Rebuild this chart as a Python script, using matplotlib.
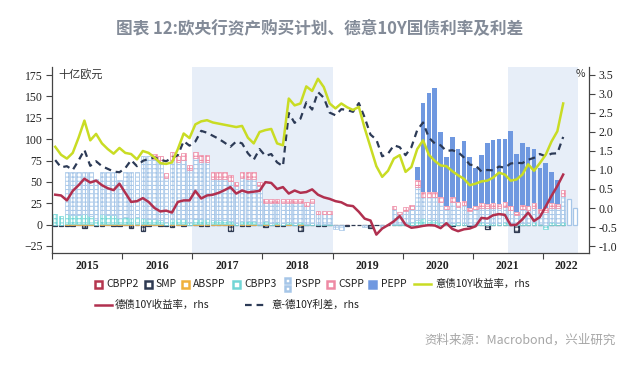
import numpy as np
import matplotlib
matplotlib.use('Agg')
import matplotlib.pyplot as plt
from matplotlib.patches import Rectangle
from matplotlib.lines import Line2D

plt.rcParams['font.family'] = ['Noto Sans CJK SC', 'DejaVu Sans']
plt.rcParams['hatch.linewidth'] = 0.7

# 月度净购买，十亿欧元，2015-01 ~ 2022-07
cbpp2 = [-1, 0, -1, 0, 0, -1, 0, 0, -1, 0, 0, -1,
         0, -1, 0, 0, -1, 0, 0, -1, 0, 0, -1, 0,
         0, 0, -1, 0, 0, 0, 0, 0, -1, 0, 0, 0,
         0, 0, 0, -1, 0, 0, 0, 0, 0, 0, -1, 0,
         0, 0, -1, 0, 0, 0, 0, 0, 0, 0, 0, 0,
         0, 0, 0, 0, 0, 0, 0, 0, 0, 0, 0, -1,
         0, 0, 0, 0, 0, 0, 0, 0, 0, 0, 0, 0,
         0, 0, 0, 0, 0, 0, 0]
smp = [-1, -2, -1, -2, -1, -3, -1, -2, -1, -1, -2, -1,
       -1, -3, -1, -7, -1, -1, -2, -1, -3, -1, -1, -1,
       -1, -2, -1, -1, -1, -1, -7, -1, -1, -2, -1, -1,
       -3, -1, -2, -1, -1, -1, -8, -1, -1, -2, -1, -1,
       -1, -1, -1, -1, -1, -1, -4, -1, -1, -1, -1, -1,
       -1, -1, -1, -1, -1, -1, -1, -1, -2, -1, -1, -1,
       -1, -1, -5, -1, -1, -1, -1, -9, -1, -1, -1, -1,
       -1, -1, -1, -1, 0, 0, 0]
abspp = [0, 0, 1, 1, 1, 1, 1, 0, 1, 1, 1, 1,
         1, 1, 1, 1, 1, 1, 1, 0, 1, 1, 1, 0,
         1, 1, 1, 1, 1, 1, 1, 0, 1, 1, 1, 0,
         1, 0, 1, 0, 1, 0, 1, 0, 0, 0, 0, 0,
         0, 0, 0, 0, 0, 0, 0, 0, 0, 0, 0, 0,
         0, 0, 0, 0, 0, 0, 0, 0, 0, 0, 0, 0,
         0, 0, 0, 0, 0, 0, 0, 0, 0, 0, 0, 0,
         0, 0, 0, 0, 0, 0, 0]
cbpp3 = [12, 10, 11, 10, 10, 11, 9, 5, 11, 10, 10, 7,
         8, 7, 8, 7, 6, 5, 4, 3, 5, 5, 5, 3,
         5, 5, 6, 4, 4, 4, 3, 2, 3, 3, 3, 1,
         3, 2, 2, 2, 2, 2, 2, 1, 2, 1, 1, 1,
         0, 0, 0, 0, 0, 0, 0, 0, 0, 0, 1, 1,
         2, 3, 5, 8, 5, 5, 3, 1, 2, 3, 2, 0,
         1, 3, 2, 2, 2, 3, 2, 1, 2, 2, 3, 1,
         -4, 3, 2, 3, 0, 0, 0]
pspp = [0, 0, 50, 51, 51, 50, 52, 48, 50, 51, 51, 44,
        53, 54, 53, 72, 73, 71, 68, 52, 70, 67, 70, 61,
        72, 67, 66, 48, 48, 48, 47, 43, 50, 49, 49, 44,
        21, 23, 22, 23, 22, 23, 22, 21, 23, 11, 11, 11,
        -4, -5, 0, 0, 0, -2, 0, 0, -2, 0, 17, 11,
        14, 15, 39, 24, 27, 27, 24, 17, 24, 18, 21, 16,
        17, 17, 17, 18, 17, 18, 15, 10, 16, 15, 17, 13,
        15, 17, 17, 31, 30, 20, 0]
cspp = [0, 0, 0, 0, 0, 0, 0, 0, 0, 0, 0, 0,
        0, 0, 0, 0, 0, 6, 7, 5, 9, 7, 8, 6,
        7, 8, 8, 8, 8, 8, 7, 5, 7, 8, 8, 5,
        5, 5, 5, 5, 5, 5, 5, 4, 5, 4, 4, 4,
        0, 0, 0, 0, 0, 0, 0, 0, 0, 0, 4, 3,
        5, 5, 8, 6, 6, 6, 5, 4, 6, 5, 5, 4,
        4, 5, 5, 5, 5, 5, 5, 4, 5, 5, 5, 4,
        5, 5, 5, 6, 0, 0, 0]
pepp = [0] * 60 + [
        0, 0, 15, 104, 116, 122, 76, 57, 70, 62, 70, 59,
        44, 56, 71, 74, 76, 74, 87, 68, 72, 69, 64, 48,
        52, 36, 28, 0, 0, 0, 0]

# 月度收益率，%，2015-01 ~ 2022-04
it10y = [1.61, 1.40, 1.30, 1.45, 1.85, 2.30, 1.78, 1.95, 1.70, 1.55, 1.43, 1.58,
         1.45, 1.42, 1.28, 1.50, 1.45, 1.33, 1.18, 1.16, 1.20, 1.55, 1.96, 1.84,
         2.20, 2.28, 2.31, 2.25, 2.22, 2.19, 2.16, 2.13, 2.16, 1.85, 1.70, 2.00,
         2.05, 2.08, 1.70, 1.65, 2.88, 2.70, 2.75, 3.20, 3.08, 3.40, 3.18, 2.75,
         2.62, 2.75, 2.65, 2.58, 2.66, 2.10, 1.60, 1.10, 0.82, 0.98, 1.30, 1.39,
         0.95, 1.08, 1.55, 1.78, 1.40, 1.24, 1.12, 1.10, 0.97, 0.86, 0.77, 0.60,
         0.64, 0.70, 0.72, 0.80, 0.93, 0.88, 0.72, 0.75, 0.88, 1.15, 0.98, 1.18,
         1.40, 1.75, 2.02, 2.75]
de10y = [0.35, 0.33, 0.20, 0.45, 0.60, 0.77, 0.67, 0.72, 0.60, 0.52, 0.47, 0.64,
         0.40, 0.16, 0.18, 0.26, 0.16, 0.00, -0.09, -0.07, -0.12, 0.16, 0.20, 0.20,
         0.45, 0.25, 0.33, 0.35, 0.40, 0.47, 0.55, 0.38, 0.46, 0.41, 0.43, 0.45,
         0.68, 0.66, 0.50, 0.55, 0.38, 0.46, 0.40, 0.42, 0.49, 0.35, 0.28, 0.24,
         0.18, 0.15, 0.07, 0.05, -0.10, -0.28, -0.33, -0.70, -0.54, -0.45, -0.35, -0.21,
         -0.44, -0.52, -0.50, -0.47, -0.45, -0.46, -0.53, -0.40, -0.55, -0.61, -0.56, -0.54,
         -0.48, -0.26, -0.28, -0.19, -0.16, -0.18, -0.45, -0.44, -0.30, -0.12, -0.34, -0.24,
         0.04, 0.32, 0.58, 0.88]
spread = [1.26, 1.07, 1.10, 1.00, 1.25, 1.53, 1.11, 1.23, 1.10, 1.03, 0.96, 0.94,
          1.05, 1.26, 1.10, 1.24, 1.29, 1.33, 1.27, 1.23, 1.32, 1.39, 1.76, 1.64,
          1.75, 2.03, 1.98, 1.90, 1.82, 1.72, 1.61, 1.75, 1.70, 1.44, 1.27, 1.55,
          1.37, 1.42, 1.20, 1.10, 2.50, 2.24, 2.35, 2.78, 2.59, 3.05, 2.90, 2.51,
          2.44, 2.60, 2.58, 2.53, 2.76, 2.38, 1.93, 1.80, 1.36, 1.43, 1.65, 1.60,
          1.39, 1.60, 2.05, 2.25, 1.85, 1.70, 1.65, 1.50, 1.52, 1.47, 1.33, 1.14,
          1.12, 0.96, 1.00, 0.99, 1.09, 1.06, 1.17, 1.19, 1.18, 1.27, 1.32, 1.42,
          1.36, 1.43, 1.44, 1.87]

years = [2015, 2016, 2017, 2018, 2019, 2020, 2021, 2022]
year_labels = ['2015', '2016', '2017', '2018', '2019', '2020', '2021', '2022']

C_CBPP2 = '#b5364f'
C_SMP = '#2f3a52'
C_ABSPP = '#f0b13c'
C_CBPP3 = '#72d6d6'
C_PSPP = '#a6c6e8'
C_CSPP = '#ee8aa4'
C_PEPP = '#6f98e0'
C_IT = '#c9dc24'
C_DE = '#b1304f'
C_SP = '#2c3a56'
C_SHADE = '#e7eef8'

n = len(pspp)
x = 2015 + (np.arange(n) + 0.5) / 12
xl = 2015 + (np.arange(len(it10y)) + 0.5) / 12
w = 0.78 / 12

fig = plt.figure(figsize=(6.4, 3.69), dpi=100)
W, H = 640.0, 369.0
ax = fig.add_axes([52.3 / W, 1 - 253 / H, (589 - 52.3) / W, (253 - 67) / H])
ax2 = ax.twinx()

ax.axvspan(2017, 2019, color=C_SHADE, lw=0, zorder=0)
ax.axvspan(2021.5, 2022.5, color=C_SHADE, lw=0, zorder=0)

series = [(cbpp2, C_CBPP2, True), (smp, C_SMP, True), (abspp, C_ABSPP, True),
          (cbpp3, C_CBPP3, True), (pspp, C_PSPP, True), (cspp, C_CSPP, True),
          (pepp, C_PEPP, False)]
pos_base = np.zeros(n)
neg_base = np.zeros(n)
for vals, col, hatched in series:
    v = np.array(vals, dtype=float)
    p = np.clip(v, 0, None)
    q = np.clip(v, None, 0)
    if hatched:
        lw = 0.9 if col in (C_SMP, C_CBPP2) else 0.5
        kw = dict(facecolor='white', edgecolor=col, hatch='++++', linewidth=lw)
    else:
        kw = dict(facecolor=col, edgecolor=col, linewidth=0)
    mp = p > 0
    mq = q < 0
    bars = ax.bar(x[mp], p[mp], width=w, bottom=pos_base[mp], zorder=2, **kw)
    if col == C_PSPP:
        for rect in bars:
            if rect.get_x() > 2022.3:
                rect.set_hatch(None)
                rect.set_linewidth(0.9)
    ax.bar(x[mq], q[mq], width=w, bottom=neg_base[mq], zorder=2, **kw)
    pos_base += p
    neg_base += q

ax2.plot(xl, spread, color=C_SP, lw=1.6, dashes=(3, 2.2), zorder=3)
ax2.plot(xl, de10y, color=C_DE, lw=1.8, zorder=4)
ax2.plot(xl, it10y, color=C_IT, lw=1.8, zorder=5)

ax.set_xlim(2015, 2022.66)
ax.set_ylim(-33.2, 184.4)
ax2.set_ylim(-1.184, 3.71)

ax.set_yticks(np.arange(-25, 176, 25))
ax2.set_yticks(np.arange(-1.0, 3.51, 0.5))
ax2.set_yticklabels(['%.1f' % t for t in np.arange(-1.0, 3.51, 0.5)])

ax.set_xticks(years)
ax.set_xticklabels([])
mids = [y + 0.5 for y in years[:-1]] + [2022.33]
ax.set_xticks(mids, minor=True)
ax.set_xticklabels(year_labels, minor=True)

for a in (ax, ax2):
    a.spines['top'].set_visible(False)
    for s in a.spines.values():
        s.set_color('#444444')
        s.set_linewidth(0.9)
ax.spines['right'].set_visible(False)
ax2.spines['left'].set_visible(False)
ax2.spines['bottom'].set_visible(False)

ax.tick_params(axis='y', direction='out', length=4, width=0.8, color='#444444', pad=3)
ax2.tick_params(axis='y', direction='out', length=4, width=0.8, color='#444444', pad=3)
ax.tick_params(axis='x', which='major', direction='out', length=4, width=0.8, color='#444444')
ax.tick_params(axis='x', which='minor', length=0, pad=5)
for lab in ax.get_yticklabels() + ax2.get_yticklabels() + ax.get_xticklabels(minor=True):
    lab.set_fontfamily('Liberation Serif')
    lab.set_fontsize(8.5)
    lab.set_color('#222222')
for lab in ax.get_xticklabels(minor=True):
    lab.set_fontweight('bold')

fig.text(58 / W, 1 - 74 / H, '十亿欧元', fontsize=8, color='#333333', va='center', ha='left')
fig.text(580 / W, 1 - 74 / H, '%', fontsize=7.5, color='#333333', va='center', ha='center')

fig.text(0.5, 1 - 29 / H, '图表 12:欧央行资产购买计划、德意10Y国债利率及利差',
         ha='center', va='center', fontsize=12, color='#838b98', fontweight='bold')
fig.text(616 / W, 1 - 340 / H, '资料来源：Macrobond，兴业研究',
         ha='right', va='center', fontsize=9, color='#a6a6a6')


def fx(px):
    return px / W


def fy(py):
    return 1 - py / H


def leg_box(x0, yc, col, solid=False, s=7):
    r = Rectangle((fx(x0), fy(yc + s / 2)), s / W, s / H, transform=fig.transFigure,
                  facecolor=col if solid else 'white', edgecolor=col, linewidth=1.8)
    fig.add_artist(r)


def leg_text(x0, yc, txt):
    fig.text(fx(x0), fy(yc), txt, fontsize=7.5, color='#222222', va='center', ha='left')


r1, r2 = 284, 305
leg_box(95, r1, C_CBPP2); leg_text(106, r1, 'CBPP2')
leg_box(145, r1, C_SMP); leg_text(155, r1, 'SMP')
leg_box(182, r1, C_ABSPP); leg_text(193, r1, 'ABSPP')
leg_box(233, r1, C_CBPP3); leg_text(244, r1, 'CBPP3')
leg_box(285, r1 - 4, C_PSPP, s=5); leg_box(285, r1 + 4, C_PSPP, s=5); leg_text(295, r1, 'PSPP')
leg_box(327, r1, C_CSPP); leg_text(338, r1, 'CSPP')
leg_box(369, r1, C_PEPP, solid=True); leg_text(381, r1, 'PEPP')
fig.add_artist(Line2D([fx(414), fx(431)], [fy(r1), fy(r1)], color=C_IT, lw=1.8,
                      transform=fig.transFigure))
leg_text(435, r1, '意债10Y收益率，rhs')
fig.add_artist(Line2D([fx(95), fx(112)], [fy(r2), fy(r2)], color=C_DE, lw=1.8,
                      transform=fig.transFigure))
leg_text(115, r2, '德债10Y收益率，rhs')
fig.add_artist(Line2D([fx(245), fx(267)], [fy(r2), fy(r2)], color=C_SP, lw=1.6,
                      dashes=(3, 2.2), transform=fig.transFigure))
leg_text(271, r2, '意-德10Y利差，rhs')

fig.savefig('out.png', dpi=100)
